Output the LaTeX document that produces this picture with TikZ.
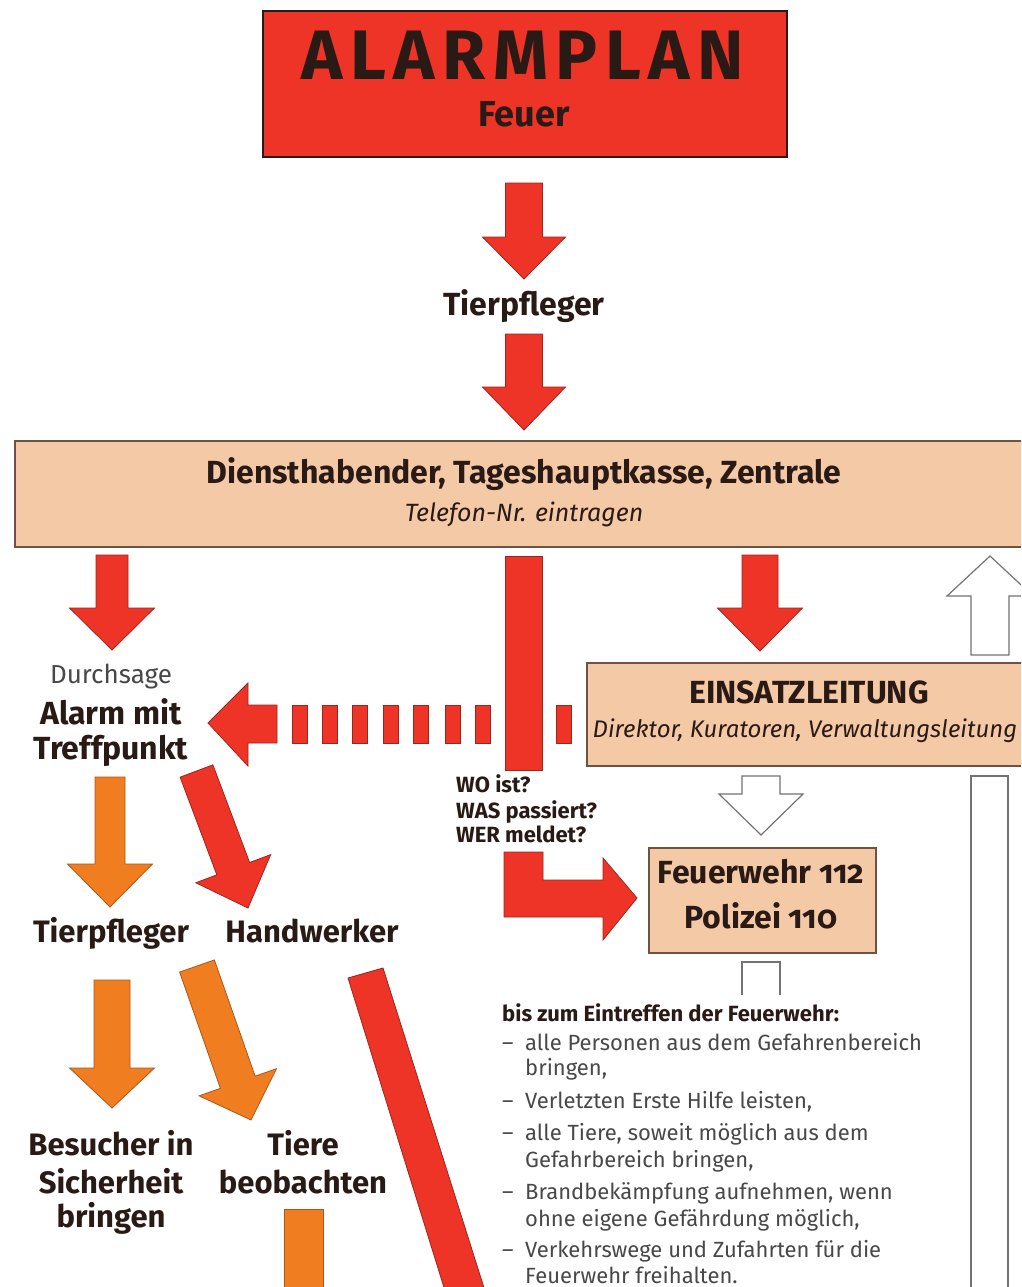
\documentclass[tikz,border=0pt]{standalone}
\usepackage{fontspec}
\setmainfont{Fira Sans}[Numbers=OldStyle]
\usetikzlibrary{calc}
\definecolor{fred}{RGB}{238,52,38}
\definecolor{fredline}{RGB}{160,35,28}
\definecolor{forange}{RGB}{240,125,32}
\definecolor{forangeline}{RGB}{175,85,25}
\definecolor{ftan}{RGB}{244,201,166}
\definecolor{ftanline}{RGB}{110,82,68}
\definecolor{ftext}{RGB}{42,26,22}
\definecolor{fbody}{RGB}{72,72,72}
\definecolor{fhollow}{RGB}{115,115,115}
\tikzset{
  redarrow/.style={fill=fred, draw=fredline, line width=0.8pt, line join=miter},
  orangearrow/.style={fill=forange, draw=forangeline, line width=0.8pt, line join=miter},
  hollowarrow/.style={fill=white, draw=fhollow, line width=1.2pt, line join=miter},
  hollowline/.style={draw=fhollow, line width=1.2pt},
  tanbox/.style={fill=ftan, draw=ftanline, line width=1.5pt, inner sep=0pt},
  titlebox/.style={fill=fred, draw=ftext, line width=2pt, inner sep=0pt},
  lbl/.style={inner sep=0pt, anchor=base, text=ftext, font=\bfseries\fontsize{31}{36}\selectfont},
  sublbl/.style={inner sep=0pt, anchor=base, text=ftext, font=\itshape\fontsize{25}{29}\selectfont},
  body/.style={inner sep=0pt, anchor=base west, text=fbody, font=\fontsize{22}{26}\selectfont},
}
% block arrow: style, start, tip, shaft half width, head half width, head length
\newcommand\blockarrow[6]{%
  \path (#2) coordinate (ba-s) (#3) coordinate (ba-e);
  \path ($(ba-e)!#6!(ba-s)$) coordinate (ba-b);
  \draw[#1] ($(ba-s)!#4!90:(ba-e)$) -- ($(ba-b)!#4!90:(ba-e)$) -- ($(ba-b)!#5!90:(ba-e)$)
    -- (ba-e) -- ($(ba-b)!#5!-90:(ba-e)$) -- ($(ba-b)!#4!-90:(ba-e)$) -- ($(ba-s)!#4!-90:(ba-e)$) -- cycle;
}
\begin{document}
\begin{tikzpicture}[x=1pt,y=-1pt]
\useasboundingbox (0,0) rectangle (1021,1287);
\clip (0,0) rectangle (1021,1287);
\fill[white] (0,0) rectangle (1021,1287);

% boxes
\node[titlebox, anchor=north west, minimum width=524pt, minimum height=146pt] (title) at (262,10) {};
\node[tanbox, anchor=north west, minimum width=1020pt, minimum height=106pt] (dienst) at (14,440) {};
\node[tanbox, anchor=north west, minimum width=446pt, minimum height=103pt] (einsatz) at (586,662) {};
\node[tanbox, anchor=north west, minimum width=227pt, minimum height=105pt] (feuerwehr) at (648,847) {};

% red arrows along the main line
\blockarrow{redarrow}{524,183}{524,279}{18.5pt}{41.5pt}{42pt}
\blockarrow{redarrow}{524,334}{524,430}{18.5pt}{41.5pt}{43pt}
\blockarrow{redarrow}{112,555}{112,650}{16pt}{42.5pt}{42pt}
\blockarrow{redarrow}{760,555}{760,651}{18pt}{42.5pt}{43pt}

% hollow arrows on the right
\blockarrow{hollowarrow}{990,655}{990,556}{19pt}{43pt}{40pt}
\blockarrow{hollowarrow}{761,776}{761,835}{19pt}{42pt}{41pt}
\draw[hollowarrow] (971,1310) -- (971,776) -- (1008,776) -- (1008,1310);
\draw[hollowline] (742,995) -- (742,962) -- (780,962) -- (780,995);

% dashed arrow from Einsatzleitung to Alarm
\draw[redarrow] (208,723) -- (248,683) -- (248,705) -- (277,705) -- (277,743) -- (248,743) -- (248,766) -- cycle;
\foreach \x in {292,322,352,383,413,445,475,556}
  \draw[redarrow] (\x,705) rectangle ++(15,38);

% red vertical bar and L arrow to Feuerwehr
\draw[redarrow] (505,556) rectangle (542,770);
\draw[redarrow] (504,852) -- (543,852) -- (543,880) -- (603,880) -- (603,858) -- (637,898)
  -- (603,940) -- (603,917) -- (504,917) -- cycle;

% left cascade
\blockarrow{orangearrow}{110,777}{110,907}{15pt}{42.5pt}{43pt}
\blockarrow{redarrow}{196.5,771}{248,908}{17.5pt}{40pt}{42pt}
\blockarrow{orangearrow}{112,980}{112,1108}{18pt}{42.5pt}{40pt}
\blockarrow{orangearrow}{197,966}{251,1120}{18.4pt}{41pt}{40pt}
\draw[orangearrow] (284,1310) -- (284,1209) -- (323,1209) -- (323,1310) -- cycle;
\draw[redarrow] (348,978) -- (383,968) -- (491,1310) -- (451,1310) -- cycle;

% texts
\node[inner sep=0pt, anchor=base west, text=ftext, font=\bfseries\fontsize{70}{70}\selectfont] (alarmplan) at (301,80)
  {\makebox[443pt]{A\hfill L\hfill A\hfill R\hfill M\hfill P\hfill L\hfill A\hfill N}};
\node[lbl, font=\bfseries\fontsize{36}{40}\selectfont] (feuer) at (524,127) {Feuer};
\node[lbl, font=\bfseries\fontsize{32}{36}\selectfont] (tierpfleger1) at (524,315) {Tierpfleger};
\node[lbl, font=\bfseries\fontsize{32}{36}\selectfont] (dienstt) at (524,483) {Diensthabender, Tageshauptkasse, Zentrale};
\node[sublbl] (telefon) at (524,521) {Telefon-Nr. eintragen};
\node[lbl, font=\bfseries\fontsize{32}{36}\selectfont] (einsatzt) at (809,703) {EINSATZLEITUNG};
\node[sublbl, font=\itshape\fontsize{24}{28}\selectfont] (direktor) at (805,737) {Direktor, Kuratoren, Verwaltungsleitung};
\node[lbl, text=fbody, font=\fontsize{26}{30}\selectfont] (durchsage) at (111,683) {Durchsage};
\node[lbl, font=\bfseries\fontsize{32}{36}\selectfont] (alarm1) at (111,724) {Alarm mit};
\node[lbl, font=\bfseries\fontsize{32}{36}\selectfont] (alarm2) at (111,759) {Treffpunkt};
\node[lbl, anchor=base west, font=\bfseries\fontsize{22}{26}\selectfont] (wo) at (456,792) {WO ist?};
\node[lbl, anchor=base west, font=\bfseries\fontsize{22}{26}\selectfont] (was) at (456,818) {WAS passiert?};
\node[lbl, anchor=base west, font=\bfseries\fontsize{22}{26}\selectfont] (wer) at (456,842) {WER meldet?};
\node[lbl, font=\bfseries\fontsize{32}{36}\selectfont] (fw1) at (761,883) {Feuerwehr 112};
\node[lbl, font=\bfseries\fontsize{32}{36}\selectfont] (fw2) at (761,928) {Polizei 110};
\node[lbl] (tierpfleger2) at (111,942) {Tierpfleger};
\node[lbl] (handwerker) at (312,942) {Handwerker};
\node[lbl] (bes1) at (111,1155) {Besucher in};
\node[lbl] (bes2) at (111,1193) {Sicherheit};
\node[lbl] (bes3) at (111,1227) {bringen};
\node[lbl] (tiere1) at (303,1155) {Tiere};
\node[lbl] (tiere2) at (303,1193) {beobachten};

% list
\node[body, text=ftext, font=\bfseries\fontsize{22}{26}\selectfont] (bis) at (502,1021) {bis zum Eintreffen der Feuerwehr:};
\foreach \y/\n in {1050/d1,1108.5/d2,1140.7/d3,1199.2/d4,1257.7/d5}
  \node[body] (\n) at (502,\y) {–};
\node[body] (i1a) at (525,1050) {alle Personen aus dem Gefahrenbereich};
\node[body] (i1b) at (525,1075.4) {bringen,};
\node[body] (i2) at (525,1108.5) {Verletzten Erste Hilfe leisten,};
\node[body] (i3a) at (525,1140.7) {alle Tiere, soweit möglich aus dem};
\node[body] (i3b) at (525,1167) {Gefahrbereich bringen,};
\node[body] (i4a) at (525,1199.2) {Brandbekämpfung aufnehmen, wenn};
\node[body] (i4b) at (525,1226.5) {ohne eigene Gefährdung möglich,};
\node[body] (i5a) at (525,1257.7) {Verkehrswege und Zufahrten für die};
\node[body] (i5b) at (525,1283.5) {Feuerwehr freihalten.};
\end{tikzpicture}
\end{document}
